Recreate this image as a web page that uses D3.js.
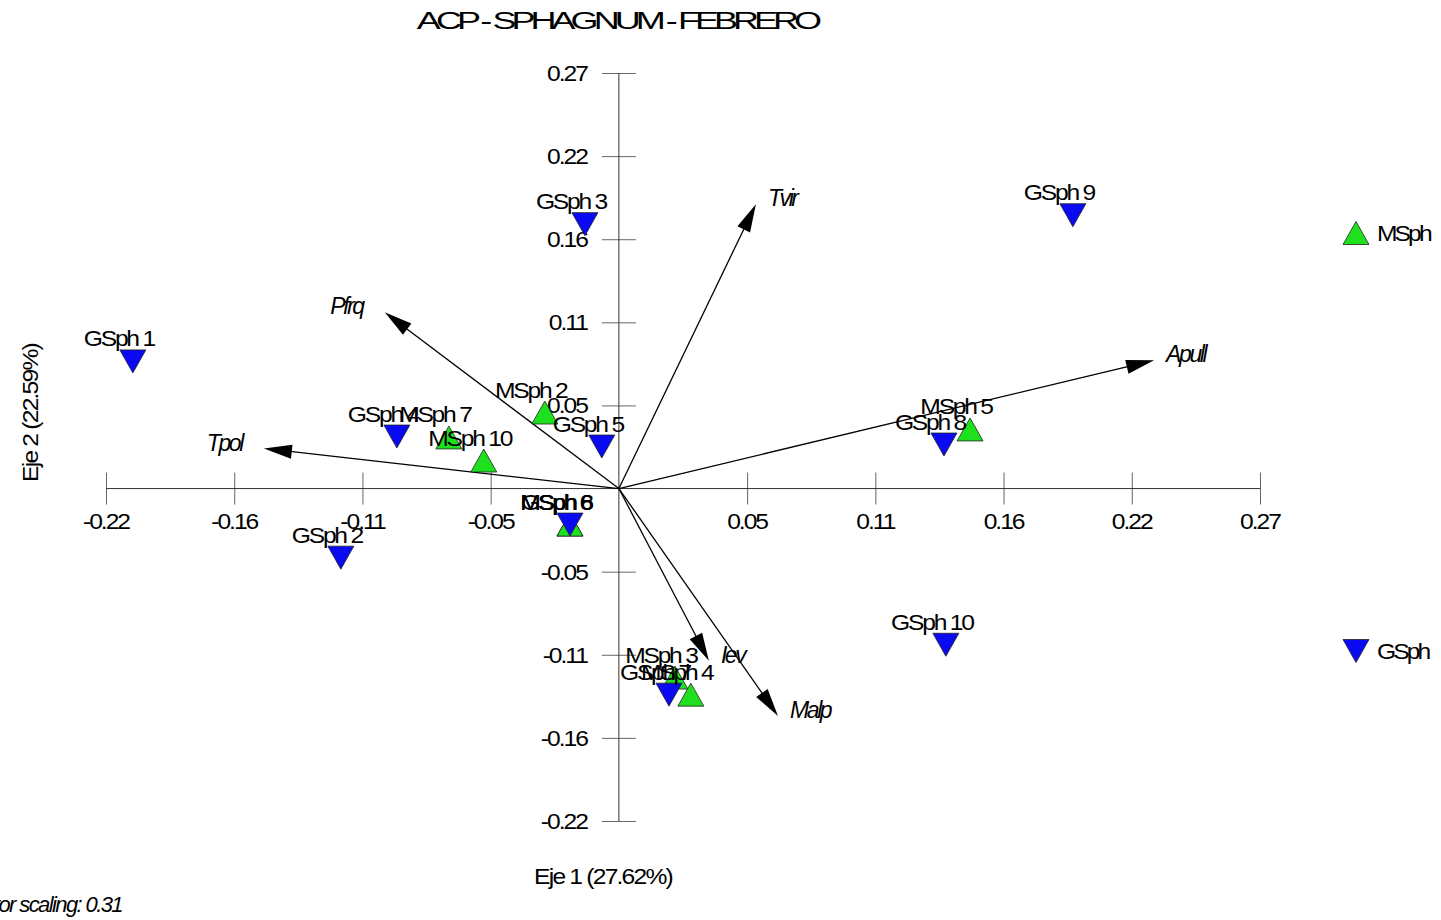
<!DOCTYPE html>
<html>
<head>
<meta charset="utf-8">
<script src="https://cdn.jsdelivr.net/npm/d3@7/dist/d3.min.js"></script>
<style>
  html, body { margin: 0; padding: 0; background: #fff; }
  svg { display: block; }
</style>
</head>
<body>
<svg id="chart" width="1441" height="920"></svg>
<script>
// ---- PCA biplot data (axis 1 / axis 2 scores) ----
const gsphNames = ["GSph 1", "GSph 2", "GSph 3", "GSph 4", "GSph 5", "GSph 6", "GSph 7", "GSph 8", "GSph 9", "GSph 10"];
const gsphAxis1 = [-0.2047, -0.1171, -0.0143, -0.0935, -0.0072, -0.0206, 0.0211, 0.1369, 0.1912, 0.1377];
const gsphAxis2 = [0.0826, -0.0449, 0.1718, 0.0338, 0.0273, -0.0234, -0.1339, 0.0286, 0.1776, -0.1015];

const msphNames = ["MSph 2", "MSph 3", "MSph 4", "MSph 5", "MSph 6", "MSph 7", "MSph 8", "MSph 10"];
const msphAxis1 = [-0.0312, 0.0236, 0.0303, 0.1479, -0.0206, -0.0716, -0.0206, -0.0569];
const msphAxis2 = [0.0494, -0.1228, -0.1339, 0.0384, -0.0234, 0.0332, -0.0234, 0.0182];

// environmental variable vectors (after vector scaling)
const varNames = ["Tvir", "Pfrq", "Apull", "Tpol", "Iev", "Malp"];
const varAxis1 = [0.0577, -0.0986, 0.2254, -0.1495, 0.0379, 0.0670];
const varAxis2 = [0.1848, 0.1145, 0.0833, 0.0260, -0.1119, -0.1477];

// axis ticks
const xTickValues = [-0.216, -0.162, -0.108, -0.054, 0.054, 0.108, 0.162, 0.216, 0.27];
const xTickLabels = ["-0.22", "-0.16", "-0.11", "-0.05", "0.05", "0.11", "0.16", "0.22", "0.27"];
const yTickValues = [-0.216, -0.162, -0.108, -0.054, 0.054, 0.108, 0.162, 0.216, 0.27];
const yTickLabels = ["-0.22", "-0.16", "-0.11", "-0.05", "0.05", "0.11", "0.16", "0.22", "0.27"];

const titleText = "ACP - SPHAGNUM - FEBRERO";
const xTitle = "Eje 1 (27.62%)";
const yTitle = "Eje 2 (22.59%)";
const scalingNote = "Vector scaling: 0.31";

// ---- layout ----
const svg = d3.select("#chart");
const FONT = "'Liberation Sans', Arial, Helvetica, sans-serif";
const GREEN = "#1fe01f", BLUE = "#0a0af2";

const x = d3.scaleLinear().domain([-0.216, 0.27]).range([106, 1260]);
const y = d3.scaleLinear().domain([-0.216, 0.27]).range([821, 73]);
const x0 = x(0), y0 = y(0);

// text helper: baseline position, optional horizontal stretch and tight tracking
function addText(parent, str, px, py, o = {}) {
  const sx = o.sx || 1;
  const t = parent.append("text")
    .attr("transform", `translate(${px},${py})${o.rotate ? ` rotate(${o.rotate})` : ""} scale(${sx},1)`)
    .attr("text-anchor", o.anchor || "start")
    .attr("font-family", FONT)
    .attr("font-size", o.size || 22)
    .attr("letter-spacing", o.ls != null ? o.ls : -1.8)
    .attr("fill", o.fill || "#000")
    .text(str);
  if (o.italic) t.attr("font-style", "italic");
  if (o.middleY) t.attr("dominant-baseline", "central");
  return t;
}

// ---- axes (ticks cross the axis lines) ----
const gx = svg.append("g").attr("transform", `translate(0,${y0 - 16})`)
  .call(d3.axisBottom(x).tickValues(xTickValues).tickSize(32).tickPadding(0)
    .tickFormat(() => ""));
gx.select(".domain").remove();
gx.selectAll(".tick line").attr("stroke", "#666").attr("stroke-width", 1);

const gy = svg.append("g").attr("transform", `translate(${x0 + 17},0)`)
  .call(d3.axisLeft(y).tickValues(yTickValues).tickSize(34).tickPadding(0)
    .tickFormat(() => ""));
gy.select(".domain").remove();
gy.selectAll(".tick line").attr("stroke", "#666").attr("stroke-width", 1);

svg.append("line").attr("x1", x(xTickValues[0])).attr("x2", x(xTickValues[xTickValues.length - 1]))
  .attr("y1", y0).attr("y2", y0).attr("stroke", "#333").attr("stroke-width", 1);
svg.append("line").attr("y1", y(yTickValues[0])).attr("y2", y(yTickValues[yTickValues.length - 1]))
  .attr("x1", x0).attr("x2", x0).attr("stroke", "#333").attr("stroke-width", 1);

const tickLabels = svg.append("g");
xTickValues.forEach((v, i) => addText(tickLabels, xTickLabels[i], x(v), y0 + 40, { anchor: "middle", sx: 1.12, ls: -1.8 }));
yTickValues.forEach((v, i) => addText(tickLabels, yTickLabels[i], x0 - 32, y(v) + 8, { anchor: "end", sx: 1.12, ls: -1.8 }));

// axis titles
addText(svg, xTitle, 603, 884, { anchor: "middle", sx: 1.12, ls: -1.6 });
addText(svg, yTitle, 38, 413, { anchor: "middle", rotate: -90, sx: 1.12, ls: -1.6 });

// title
addText(svg, titleText, 617, 29, { anchor: "middle", size: 24, sx: 1.5, ls: -3.3 });

// scaling note (runs past the left edge)
addText(svg, scalingNote, 122, 912, { anchor: "end", size: 22, italic: true, ls: -1.6 });

// ---- environmental vectors ----
const vecG = svg.append("g");
varNames.forEach((name, i) => {
  const tx = x(varAxis1[i]), ty = y(varAxis2[i]);
  const dx = tx - x0, dy = ty - y0, len = Math.hypot(dx, dy);
  const ux = dx / len, uy = dy / len, nx = -uy, ny = ux;
  const L = 28, W = 14;
  const bx = tx - ux * L, by = ty - uy * L;
  vecG.append("line").attr("x1", x0).attr("y1", y0).attr("x2", bx + ux * 4).attr("y2", by + uy * 4)
    .attr("stroke", "#000").attr("stroke-width", 1.3);
  vecG.append("path")
    .attr("d", `M${tx},${ty}L${bx + nx * W / 2},${by + ny * W / 2}L${bx - nx * W / 2},${by - ny * W / 2}Z`)
    .attr("fill", "#000");
  const right = dx > 0;
  addText(vecG, name, right ? tx + 12 : tx - 22, ty - 6, {
    anchor: right ? "start" : "end", italic: true, size: 23, ls: -2.4, middleY: true
  });
});

// ---- sample markers ----
const TW = 26, TH = 23;
const upTri = `M0,${-TH / 2}L${TW / 2},${TH / 2}L${-TW / 2},${TH / 2}Z`;
const downTri = `M0,${TH / 2}L${TW / 2},${-TH / 2}L${-TW / 2},${-TH / 2}Z`;

const msph = msphNames.map((n, i) => ({ n, a: msphAxis1[i], b: msphAxis2[i] }));
const gsph = gsphNames.map((n, i) => ({ n, a: gsphAxis1[i], b: gsphAxis2[i] }));

const markG = svg.append("g");
markG.selectAll(".m").data(msph).join("path")
  .attr("transform", d => `translate(${x(d.a)},${y(d.b)})`)
  .attr("d", upTri).attr("fill", GREEN).attr("stroke", "#222").attr("stroke-width", 0.8);
markG.selectAll(".g").data(gsph).join("path")
  .attr("transform", d => `translate(${x(d.a)},${y(d.b)})`)
  .attr("d", downTri).attr("fill", BLUE).attr("stroke", "#222").attr("stroke-width", 0.8);

const labG = svg.append("g");
msph.concat(gsph).forEach(d => {
  addText(labG, d.n, x(d.a) - 14, y(d.b) - 15, { anchor: "middle", sx: 1.12, ls: -2 });
});

// ---- legend ----
const legG = svg.append("g");
legG.append("path").attr("transform", "translate(1356,233)").attr("d", upTri)
  .attr("fill", GREEN).attr("stroke", "#222").attr("stroke-width", 0.8);
addText(legG, "MSph", 1377, 233, { middleY: true, sx: 1.12, ls: -2.6 });
legG.append("path").attr("transform", "translate(1356,651)").attr("d", downTri)
  .attr("fill", BLUE).attr("stroke", "#222").attr("stroke-width", 0.8);
addText(legG, "GSph", 1377, 651, { middleY: true, sx: 1.12, ls: -2.6 });
</script>
</body>
</html>
